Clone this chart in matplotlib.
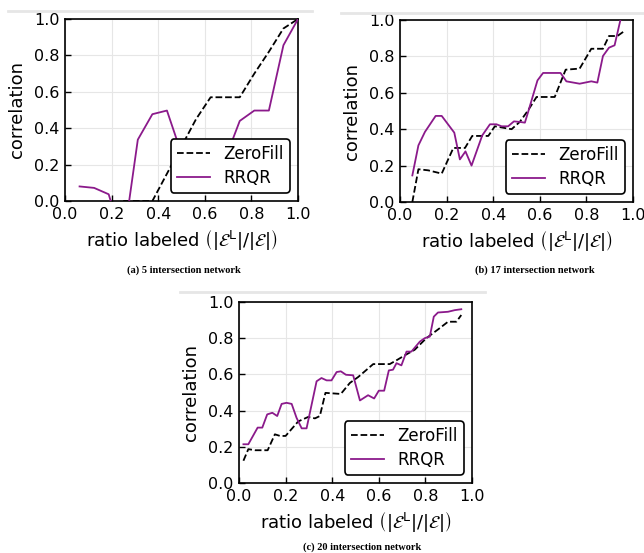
import matplotlib
matplotlib.use("Agg")
import matplotlib.pyplot as plt
from matplotlib.lines import Line2D

# ---------------- data ----------------
# (a) 5 intersection network
a_rrqr_x = [0.0625, 0.125, 0.1875, 0.25, 0.3125, 0.375, 0.4375, 0.5, 0.5625,
            0.625, 0.6875, 0.75, 0.8125, 0.875, 0.9375, 1.0]
a_rrqr_y = [0.08, 0.072, 0.037, -0.23, 0.337, 0.477, 0.497, 0.26, 0.20,
            0.18, 0.23, 0.44, 0.497, 0.497, 0.856, 1.0]
a_zero_x = [0.25, 0.3125, 0.375, 0.4375, 0.5, 0.5625, 0.625, 0.6875, 0.75,
            0.8125, 0.875, 0.9375, 1.0]
a_zero_y = [0.0, 0.0, 0.0, 0.15, 0.30, 0.45, 0.57, 0.57, 0.57,
            0.70, 0.82, 0.948, 1.0]

# (b) 17 intersection network
b_rrqr_x = [0.053, 0.079, 0.107, 0.153, 0.179, 0.233, 0.257, 0.281, 0.307, 0.353,
            0.386, 0.414, 0.436, 0.464, 0.489, 0.514, 0.536, 0.55, 0.59, 0.614,
            0.689, 0.714, 0.771, 0.821, 0.847, 0.871, 0.897, 0.921, 0.946, 0.97]
b_rrqr_y = [0.146, 0.311, 0.385, 0.473, 0.473, 0.381, 0.234, 0.278, 0.20, 0.366,
            0.427, 0.427, 0.416, 0.416, 0.443, 0.44, 0.436, 0.495, 0.668, 0.709,
            0.709, 0.663, 0.65, 0.663, 0.656, 0.802, 0.848, 0.861, 1.0, 1.12]
b_zero_x = [0.053, 0.079, 0.121, 0.179, 0.229, 0.279, 0.31, 0.379, 0.407, 0.479,
            0.514, 0.55, 0.586, 0.664, 0.711, 0.771, 0.821, 0.871, 0.897, 0.933,
            0.967]
b_zero_y = [0.0, 0.18, 0.174, 0.156, 0.297, 0.297, 0.363, 0.363, 0.416, 0.40,
            0.44, 0.504, 0.577, 0.577, 0.727, 0.733, 0.842, 0.842, 0.912, 0.912,
            0.943]

# (c) 20 intersection network
c_rrqr_x = [0.019, 0.04, 0.08, 0.1, 0.121, 0.143, 0.164, 0.183, 0.204, 0.226,
            0.247, 0.269, 0.29, 0.333, 0.354, 0.376, 0.397, 0.419, 0.437, 0.459,
            0.49, 0.519, 0.554, 0.58, 0.6, 0.623, 0.643, 0.661, 0.676, 0.697,
            0.719, 0.74, 0.776, 0.797, 0.819, 0.836, 0.854, 0.897, 0.926, 0.954]
c_rrqr_y = [0.214, 0.214, 0.306, 0.306, 0.379, 0.388, 0.37, 0.437, 0.443, 0.437,
            0.36, 0.302, 0.302, 0.562, 0.58, 0.567, 0.567, 0.613, 0.617, 0.598,
            0.595, 0.456, 0.485, 0.467, 0.51, 0.51, 0.622, 0.626, 0.662, 0.65,
            0.726, 0.726, 0.781, 0.80, 0.809, 0.919, 0.942, 0.946, 0.955, 0.96]
c_zero_x = [0.019, 0.04, 0.069, 0.123, 0.154, 0.176, 0.2, 0.254, 0.297, 0.326,
            0.347, 0.371, 0.437, 0.476, 0.511, 0.576, 0.647, 0.68, 0.711, 0.754,
            0.804, 0.861, 0.897, 0.933, 0.954]
c_zero_y = [0.123, 0.187, 0.181, 0.181, 0.269, 0.26, 0.26, 0.34, 0.365, 0.357,
            0.37, 0.498, 0.492, 0.553, 0.585, 0.657, 0.657, 0.681, 0.705, 0.736,
            0.80, 0.855, 0.891, 0.891, 0.928]

ticks = [0.0, 0.2, 0.4, 0.6, 0.8, 1.0]
captions = ["(a) 5 intersection network", "(b) 17 intersection network",
            "(c) 20 intersection network"]
xlabel = r"ratio labeled $\left(|\mathcal{E}^{\mathrm{L}}|/|\mathcal{E}|\right)$"
ylabel = "correlation"

# ---------------- figure ----------------
W, H = 644, 553
fig = plt.figure(figsize=(W / 100, H / 100), dpi=100)
fig.patch.set_facecolor("white")

def px_axes(l, t, r, b):
    return [l / W, 1 - b / H, (r - l) / W, (b - t) / H]

panels = [
    (px_axes(65, 19, 298, 201), a_zero_x, a_zero_y, a_rrqr_x, a_rrqr_y),
    (px_axes(400, 20, 633, 202), b_zero_x, b_zero_y, b_rrqr_x, b_rrqr_y),
    (px_axes(239, 302, 472, 483), c_zero_x, c_zero_y, c_rrqr_x, c_rrqr_y),
]

purple = "#8b1a8b"
for rect, zx, zy, rx, ry in panels:
    ax = fig.add_axes(rect)
    ax.plot(zx, zy, linestyle="--", color="black", linewidth=1.3,
            label="ZeroFill", zorder=3)
    ax.plot(rx, ry, linestyle="-", color=purple, linewidth=1.3,
            label="RRQR", zorder=3)
    ax.set_xlim(0, 1)
    ax.set_ylim(0, 1)
    ax.set_xticks(ticks)
    ax.set_yticks(ticks)
    ax.set_xticklabels([f"{t:.1f}" for t in ticks])
    ax.set_yticklabels([f"{t:.1f}" for t in ticks])
    ax.tick_params(direction="in", length=4, width=1, labelsize=11.5, pad=4,
                   colors="black")
    ax.grid(True, color="#e6e6e6", linewidth=0.8)
    ax.set_axisbelow(True)
    for s in ax.spines.values():
        s.set_linewidth(1.2)
        s.set_color("black")
    ax.set_xlabel(xlabel, fontsize=13, labelpad=4)
    ax.set_ylabel(ylabel, fontsize=13, labelpad=6)
    leg = ax.legend(loc="lower right", fontsize=12, frameon=True, fancybox=True,
                    framealpha=1.0, borderaxespad=0.5, handlelength=2.0,
                    labelspacing=0.35, borderpad=0.35)
    leg.set_zorder(6)
    leg.get_frame().set_edgecolor("black")
    leg.get_frame().set_linewidth(1.2)

# captions
cap_pos = [(184, 270), (535, 270), (362, 547)]
for text, (cx, cy) in zip(captions, cap_pos):
    fig.text(cx / W, 1 - cy / H, text, ha="center", va="center",
             fontsize=7.5, fontweight="bold", family="Liberation Serif")

# light separators at the top of each subfigure
for x0, x1, y in [(8, 312, 11), (341, 644, 13), (180, 485, 292)]:
    fig.add_artist(Line2D([x0 / W, x1 / W], [1 - y / H, 1 - y / H],
                          color="#e6e6e6", linewidth=2.0,
                          transform=fig.transFigure))

fig.savefig("out.png", dpi=100)
